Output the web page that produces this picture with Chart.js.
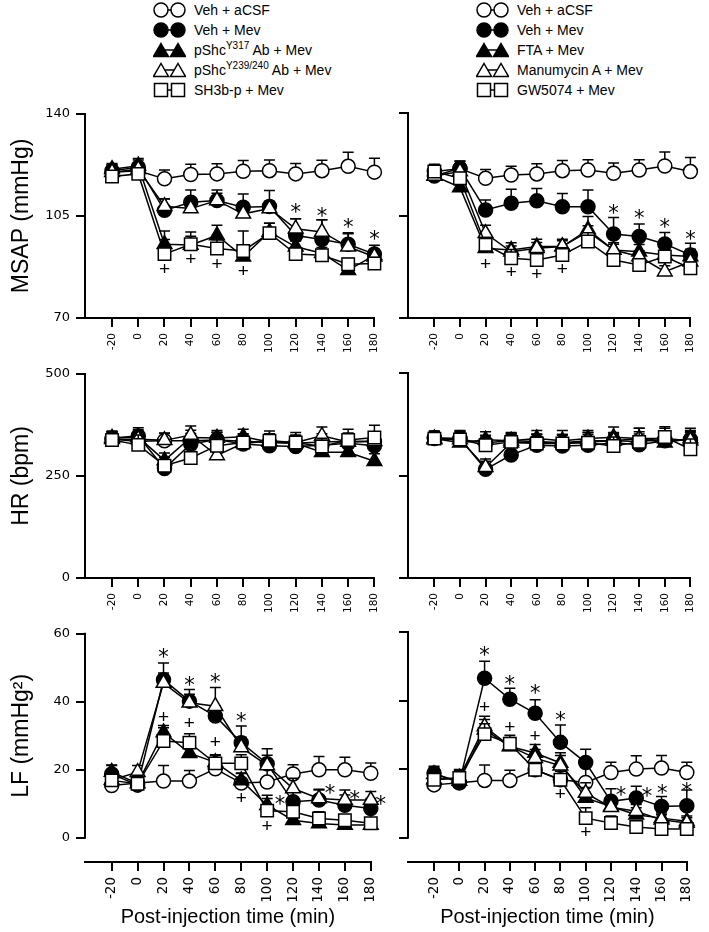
<!DOCTYPE html>
<html>
<head>
<meta charset="utf-8">
<script src="https://cdn.jsdelivr.net/npm/chart.js@4.4.0/dist/chart.umd.min.js"></script>
<style>
  body { margin: 0; background: #fff; }
  #fig { position: relative; width: 709px; height: 932px; overflow: hidden; font-family: "Liberation Sans", Arial, sans-serif; }
  #fig canvas { position: absolute; }
  .legend { position: absolute; top: 0; font-size: 14px; color: #000; }
  .legend .row { height: 20px; display: flex; align-items: center; white-space: nowrap; }
  .legend svg { margin-right: 8px; flex: none; }
  .legend sup { font-size: 10px; line-height: 0; }
</style>
</head>
<body>
<div id="fig">
  <div class="legend" id="legL" style="left:153px"></div>
  <div class="legend" id="legR" style="left:476px"></div>
  <canvas id="msapL"></canvas>
  <canvas id="msapR"></canvas>
  <canvas id="hrL"></canvas>
  <canvas id="hrR"></canvas>
  <canvas id="lfL"></canvas>
  <canvas id="lfR"></canvas>
</div>
<script>
const FONT = '"Liberation Sans", Arial, sans-serif';
const TICKFONT = '"DejaVu Sans", sans-serif';

const times = [-20, 0, 20, 40, 60, 80, 100, 120, 140, 160, 180];
const msapTicks = [70, 105, 140];
const hrTicks = [0, 250, 500];
const lfTicks = [0, 20, 40, 60];

const legendLeft = ['Veh + aCSF', 'Veh + Mev', 'pShc<sup>Y317</sup> Ab + Mev', 'pShc<sup>Y239/240</sup> Ab + Mev', 'SH3b-p + Mev'];
const legendRight = ['Veh + aCSF', 'Veh + Mev', 'FTA + Mev', 'Manumycin A + Mev', 'GW5074 + Mev'];

// MSAP (mmHg), left column
const msapAcsfL = [120, 120.5, 117.7, 119.2, 119.4, 120.3, 120.5, 119.4, 120.5, 122, 120];
const msapAcsfLErr = [2.5, 2.5, 3, 3.5, 3.5, 3.7, 3.7, 3.6, 3.6, 4.8, 4.8];
const msapMevL = [120.5, 121.7, 106.9, 109.7, 110.3, 108, 108.2, 98.3, 96.9, 95.3, 91.9];
const msapMevLErr = [2, 2.5, 4, 4.2, 3.6, 4.5, 5.5, 5.7, 6.8, 3.9, 3];
const msapY317 = [121, 122.2, 95.3, 95, 98.3, 91, 99.5, 94.4, 92.2, 86.4, 91.5];
const msapY317Err = [2, 2.5, 4.5, 3, 3.5, 3, 3, 2, 2, 2, 2];
const msapY239 = [120, 121, 108.3, 107.5, 110.3, 105.7, 107.5, 100.6, 99.5, 94.4, 91];
const msapY239Err = [2, 2, 2.5, 2.5, 2.5, 2.5, 2.5, 3.4, 4.2, 4.5, 2.5];
const msapSh3b = [118.5, 119.4, 91.9, 95.3, 93.8, 93, 99.1, 91.9, 91.5, 88.4, 88.7];
const msapSh3bErr = [2, 2, 5, 4.2, 3, 6.8, 3.4, 2, 2, 2, 2];
const msapStarsL = [[120, 107.5], [140, 106.3], [160, 102.3], [180, 98.3]];
const msapPlusL = [[20, 86.4], [40, 89.8], [60, 88.4], [80, 85.8]];

// MSAP (mmHg), right column
const msapAcsfR = [120, 121, 117.7, 118.8, 119.2, 120.3, 120.5, 119.4, 120.5, 121.9, 120];
const msapAcsfRErr = [2.5, 2.5, 3, 3, 3.5, 3.5, 3.5, 3.5, 3.5, 4.8, 4.8];
const msapMevR = [118.5, 121.1, 106.9, 109.2, 110, 108, 108, 98.7, 97.8, 95.3, 91.5];
const msapMevRErr = [2.5, 2.5, 3.4, 4.8, 4.2, 4.5, 5.7, 5.6, 4.3, 3.9, 4];
const msapFta = [118.5, 114.6, 93.8, 93.2, 94.4, 94.4, 100.2, 93.2, 92.6, 91.5, 91];
const msapFtaErr = [2, 2, 2.5, 2.5, 2.5, 2.5, 4.5, 2.5, 2.5, 2.5, 2.5];
const msapManu = [118.5, 120, 98.9, 92.6, 93.8, 94.4, 99.5, 93.2, 91, 85.8, 89.2];
const msapManuErr = [2, 2, 2.8, 2, 2, 2, 2, 2, 2, 2, 2];
const msapGw = [120, 117.7, 95, 90.4, 89.8, 91.5, 96.1, 89.8, 88.1, 91, 87];
const msapGwErr = [2, 2, 2.5, 3, 2.5, 2.5, 3, 2, 2, 2, 2];
const msapStarsR = [[120, 106.9], [140, 105.2], [160, 102.3], [180, 98.3]];
const msapPlusR = [[20, 88.3], [40, 85.3], [60, 84.7], [80, 86.4]];

// HR (bpm), left column
const hrAcsfL = [340, 335, 336, 336, 338, 335, 332, 330, 333, 335, 334];
const hrAcsfLErr = [18, 18, 18, 18, 18, 18, 20, 18, 20, 20, 20];
const hrMevL = [342, 348, 268, 328, 339, 328, 324, 322, 325, 330, 324];
const hrMevLErr = [15, 20, 20, 18, 18, 18, 20, 18, 18, 20, 20];
const hrY317 = [343, 345, 288, 344, 343, 346, 333, 330, 308, 308, 286];
const hrY317Err = [15, 18, 18, 18, 18, 18, 18, 18, 18, 18, 18];
const hrY239 = [340, 340, 337, 350, 300, 330, 335, 332, 348, 333, 335];
const hrY239Err = [18, 18, 18, 22, 18, 18, 18, 18, 22, 18, 18];
const hrSh3b = [338, 326, 275, 294, 324, 332, 336, 332, 322, 338, 344];
const hrSh3bErr = [22, 24, 20, 20, 20, 20, 24, 24, 20, 26, 30];

// HR (bpm), right column
const hrAcsfR = [340, 338, 330, 335, 333, 330, 332, 335, 333, 338, 336];
const hrAcsfRErr = [18, 18, 18, 18, 18, 18, 18, 18, 18, 18, 18];
const hrMevR = [342, 340, 265, 300, 324, 322, 324, 330, 325, 335, 338];
const hrMevRErr = [15, 20, 20, 20, 20, 20, 20, 20, 20, 20, 20];
const hrFta = [340, 330, 337, 335, 340, 335, 340, 343, 340, 330, 340];
const hrFtaErr = [18, 20, 20, 20, 20, 25, 20, 25, 25, 25, 25];
const hrManu = [338, 338, 270, 330, 330, 330, 335, 335, 340, 340, 335];
const hrManuErr = [18, 18, 20, 20, 20, 20, 20, 20, 25, 25, 25];
const hrGw = [340, 338, 324, 332, 328, 328, 330, 322, 332, 344, 314];
const hrGwErr = [18, 20, 20, 20, 22, 22, 25, 22, 25, 25, 25];

// LF (mmHg²), left column
const lfAcsfL = [15.4, 16.1, 16.7, 16.7, 20.3, 16.1, 16.4, 18.8, 20, 20, 19];
const lfAcsfLErr = [2, 3, 4.6, 3.1, 3, 3, 4.5, 2.7, 3.9, 3.7, 3];
const lfMevL = [18.8, 15.5, 46.5, 40.2, 35.8, 28, 21.8, 10.6, 11.1, 9.6, 8.6];
const lfMevLErr = [2.5, 2.5, 4.9, 3.4, 3, 4.9, 4.4, 3, 3, 3, 3];
const lfY317 = [19.4, 16, 31, 24.9, 22.2, 16.9, 9.6, 5.2, 4.2, 3.8, 3.8];
const lfY317Err = [2, 2, 2, 2, 2, 2, 2, 1.5, 1.5, 1.5, 1.5];
const lfY239 = [17, 19.3, 45.5, 39.7, 38.7, 26.6, 21.3, 14.5, 11.6, 11.1, 11.1];
const lfY239Err = [2, 2, 3, 2.5, 5.5, 3, 3, 3, 2.7, 3, 2.5];
const lfSh3b = [16.9, 15.9, 28.5, 28, 21.9, 21.9, 8, 7.7, 5.7, 5.2, 4.3];
const lfSh3bErr = [2, 2.5, 3.9, 2.6, 2.5, 2.5, 4.5, 2, 2, 1.5, 1.5];
const lfStarsL = [[20, 54.3], [40, 46], [60, 46.8], [80, 35.3], [110, 11.1], [148.6, 14.2], [167.6, 12.5], [187.6, 11.1]];
const lfPlusL = [[20, 35.3], [40, 33.6], [60, 28], [80, 11.6], [100, 3.3]];

// LF (mmHg²), right column
const lfAcsfR = [15.4, 16, 16.7, 16.7, 19.8, 16.9, 16.1, 19, 20, 20.3, 19];
const lfAcsfRErr = [2, 2.5, 4.5, 3, 3, 3, 4.5, 3, 3.9, 3.7, 3];
const lfMevR = [18.8, 16, 46.5, 40.4, 36.3, 27.8, 21.9, 10.6, 11.6, 9.1, 9.3];
const lfMevRErr = [2, 2.5, 5, 3.2, 3.9, 5.1, 3.9, 3.7, 3.4, 2.9, 4.6];
const lfFta = [18.5, 16.5, 31.5, 26.6, 24.7, 21.8, 11.6, 9.1, 6.7, 5.7, 4.8];
const lfFtaErr = [2, 2, 3, 2.5, 2.5, 3, 3, 2, 2, 1.5, 1.5];
const lfManu = [17, 17.5, 32.4, 26.7, 23.2, 21, 13, 8.9, 7.7, 5.2, 4.3];
const lfManuErr = [2, 2, 3, 2.5, 2.5, 3, 3, 2, 2, 1.5, 1.5];
const lfGw = [16.9, 17.4, 30.2, 27.4, 19.8, 16.9, 5.7, 4.3, 3.1, 2.5, 2.5];
const lfGwErr = [2, 2.5, 3, 2.5, 2, 2.5, 3, 2, 1.5, 1.5, 1.5];
const lfStarsR = [[20, 54.3], [40, 45.8], [60, 43.1], [80, 35.3], [128, 13.5], [148.5, 13.2], [160.6, 14], [180, 14.5]];
const lfPlusR = [[20, 37.8], [40, 32], [60, 29.5], [80, 12.5], [100, 1.5]];

// marker for each series, in the order of the legend
const shapes = [
  { style: 'circle', r: 7, fill: '#fff' },
  { style: 'circle', r: 7, fill: '#000' },
  { style: 'triangle', r: 8.5, fill: '#000' },
  { style: 'triangle', r: 8.5, fill: '#fff' },
  { style: 'rect', r: 8.8, fill: '#fff' }
];

function legendSvg(i) {
  const s = shapes[i], stroke = 'stroke="#000" stroke-width="1.5"';
  let one = cx => '';
  if (s.style === 'circle') one = cx => `<circle cx="${cx}" cy="9" r="7" fill="${s.fill}" ${stroke}/>`;
  if (s.style === 'triangle') one = cx => `<polygon points="${cx},2.5 ${cx + 7.5},15.5 ${cx - 7.5},15.5" fill="${s.fill}" ${stroke}/>`;
  if (s.style === 'rect') one = cx => `<rect x="${cx - 6.5}" y="2.5" width="13" height="13" fill="${s.fill}" ${stroke}/>`;
  return `<svg width="33" height="18"><line x1="8" y1="9" x2="25" y2="9" ${stroke}/>${one(8)}${one(25)}</svg>`;
}

function fillLegend(id, labels) {
  document.getElementById(id).innerHTML = labels
    .map((t, i) => `<div class="row">${legendSvg(i)}<span>${t}</span></div>`).join('');
}
fillLegend('legL', legendLeft);
fillLegend('legR', legendRight);

// upper error bars, drawn just before their own series
const errorBars = {
  id: 'errorBars',
  beforeDatasetDraw(chart, args) {
    const ds = chart.data.datasets[args.index];
    const y = chart.scales.y, ctx = chart.ctx;
    ctx.save();
    ctx.strokeStyle = '#000';
    ctx.lineWidth = 1.5;
    args.meta.data.forEach((pt, j) => {
      const top = y.getPixelForValue(ds.data[j].y + ds.err[j]);
      ctx.beginPath();
      ctx.moveTo(pt.x, pt.y);
      ctx.lineTo(pt.x, top);
      ctx.moveTo(pt.x - 5.5, top);
      ctx.lineTo(pt.x + 5.5, top);
      ctx.stroke();
    });
    ctx.restore();
  }
};

// * and + significance marks
const sigMarks = {
  id: 'sig',
  afterDatasetsDraw(chart, args, o) {
    const { ctx, scales: { x, y } } = chart;
    ctx.save();
    ctx.fillStyle = '#000';
    ctx.textAlign = 'center';
    ctx.textBaseline = 'middle';
    ctx.font = '21px "DejaVu Sans"';
    (o.stars || []).forEach(([t, v]) => ctx.fillText('*', x.getPixelForValue(t), y.getPixelForValue(v) + 5));
    ctx.font = '19px ' + FONT;
    (o.plus || []).forEach(([t, v]) => ctx.fillText('+', x.getPixelForValue(t), y.getPixelForValue(v)));
    ctx.restore();
  }
};

// LF panels: y axis line stops at 0 while the x axis sits lower
const yLine = {
  id: 'yLine',
  afterDraw(chart, args, o) {
    if (o.from === undefined) return;
    const { ctx, chartArea, scales: { y } } = chart;
    const x0 = Math.round(chartArea.left);
    const y0 = y.getPixelForValue(o.from), y1 = y.getPixelForValue(o.to);
    ctx.save();
    ctx.strokeStyle = '#000';
    ctx.lineWidth = 2;
    ctx.beginPath();
    ctx.moveTo(x0, y0 + 1);
    ctx.lineTo(x0, y1 - 1);
    ctx.stroke();
    if (o.title) {
      ctx.translate(22, (y0 + y1) / 2);
      ctx.rotate(-Math.PI / 2);
      ctx.font = '23px ' + FONT;
      ctx.fillStyle = '#000';
      ctx.textAlign = 'center';
      ctx.textBaseline = 'middle';
      ctx.fillText(o.title, 0, 0);
    }
    ctx.restore();
  }
};

function buildSets(labels, values, errors) {
  return values.map((vals, i) => ({
    label: labels[i].replace(/<[^>]+>/g, ''),
    data: times.map((t, j) => ({ x: t, y: vals[j] })),
    err: errors[i],
    borderColor: '#000',
    borderWidth: 1.5,
    pointBorderColor: '#000',
    pointBorderWidth: 1.5,
    pointStyle: shapes[i].style,
    pointRadius: shapes[i].r,
    pointHoverRadius: shapes[i].r,
    pointBackgroundColor: shapes[i].fill,
    order: values.length - i,
    clip: false
  }));
}

function drawPanel(id, box, sets, yAxis, opt) {
  const cv = document.getElementById(id);
  cv.width = box.w;
  cv.height = box.h;
  cv.style.left = box.left + 'px';
  cv.style.top = box.top + 'px';
  const line = { color: '#000', width: 2 };
  new Chart(cv, {
    type: 'line',
    data: { datasets: sets },
    options: {
      responsive: false,
      animation: false,
      devicePixelRatio: 1,
      events: [],
      layout: { padding: { top: box.padTop, right: box.padRight, left: 0, bottom: 0 } },
      plugins: {
        legend: { display: false },
        tooltip: { enabled: false },
        sig: { stars: opt.stars, plus: opt.plus },
        yLine: opt.yLine || {}
      },
      scales: {
        x: {
          type: 'linear',
          min: -40.6,
          max: 180,
          afterBuildTicks: s => { s.ticks = times.map(v => ({ value: v })); },
          afterFit: s => { s.height = box.xh; },
          border: line,
          grid: { drawOnChartArea: false, tickLength: 9, color: '#000', lineWidth: 2 },
          ticks: { autoSkip: false, minRotation: 90, maxRotation: 90, padding: 6, color: '#000',
                   font: { family: TICKFONT, size: opt.xTickSize } },
          title: { display: !!opt.xTitle, text: opt.xTitle, color: '#000',
                   font: { family: FONT, size: 20 }, padding: { top: 0, bottom: 3 } }
        },
        y: {
          type: 'linear',
          min: yAxis.min,
          max: yAxis.max,
          afterBuildTicks: s => { s.ticks = yAxis.ticks.map(v => ({ value: v })); },
          afterFit: s => { s.width = box.yw; },
          border: { display: !opt.yLine, color: '#000', width: 2 },
          grid: { drawOnChartArea: false, tickLength: 9, color: '#000', lineWidth: 2 },
          ticks: { display: !!opt.yLabels, padding: 6, color: '#000', font: { family: TICKFONT, size: 13 } },
          title: { display: !!opt.yTitle, text: opt.yTitle, color: '#000',
                   font: { family: FONT, size: 23 }, padding: { top: 8, bottom: 0 } }
        }
      }
    },
    plugins: [errorBars, sigMarks, yLine]
  });
}

const leftBox = { left: 0, w: 393, yw: 85, padRight: 18 };
const rightBox = { left: 393, w: 316, yw: 15, padRight: 11 };
const rowMsap = { top: 100, h: 260, padTop: 13, xh: 42 };
const rowHr = { top: 360, h: 260, padTop: 13, xh: 42 };
const rowLf = { top: 620, h: 312, padTop: 12, xh: 70 };

drawPanel('msapL', Object.assign({}, leftBox, rowMsap),
  buildSets(legendLeft, [msapAcsfL, msapMevL, msapY317, msapY239, msapSh3b],
    [msapAcsfLErr, msapMevLErr, msapY317Err, msapY239Err, msapSh3bErr]),
  { min: 70, max: 140, ticks: msapTicks },
  { yLabels: true, yTitle: 'MSAP (mmHg)', xTickSize: 10.5, stars: msapStarsL, plus: msapPlusL });

drawPanel('msapR', Object.assign({}, rightBox, rowMsap),
  buildSets(legendRight, [msapAcsfR, msapMevR, msapFta, msapManu, msapGw],
    [msapAcsfRErr, msapMevRErr, msapFtaErr, msapManuErr, msapGwErr]),
  { min: 70, max: 140, ticks: msapTicks },
  { xTickSize: 10.5, stars: msapStarsR, plus: msapPlusR });

drawPanel('hrL', Object.assign({}, leftBox, rowHr),
  buildSets(legendLeft, [hrAcsfL, hrMevL, hrY317, hrY239, hrSh3b],
    [hrAcsfLErr, hrMevLErr, hrY317Err, hrY239Err, hrSh3bErr]),
  { min: 0, max: 500, ticks: hrTicks },
  { yLabels: true, yTitle: 'HR (bpm)', xTickSize: 10.5 });

drawPanel('hrR', Object.assign({}, rightBox, rowHr),
  buildSets(legendRight, [hrAcsfR, hrMevR, hrFta, hrManu, hrGw],
    [hrAcsfRErr, hrMevRErr, hrFtaErr, hrManuErr, hrGwErr]),
  { min: 0, max: 500, ticks: hrTicks },
  { xTickSize: 10.5 });

drawPanel('lfL', Object.assign({}, leftBox, rowLf),
  buildSets(legendLeft, [lfAcsfL, lfMevL, lfY317, lfY239, lfSh3b],
    [lfAcsfLErr, lfMevLErr, lfY317Err, lfY239Err, lfSh3bErr]),
  { min: -7.1, max: 60, ticks: lfTicks },
  { yLabels: true, xTickSize: 13.5, xTitle: 'Post-injection time (min)',
    yLine: { from: 0, to: 60, title: 'LF (mmHg²)' }, stars: lfStarsL, plus: lfPlusL });

drawPanel('lfR', Object.assign({}, rightBox, rowLf),
  buildSets(legendRight, [lfAcsfR, lfMevR, lfFta, lfManu, lfGw],
    [lfAcsfRErr, lfMevRErr, lfFtaErr, lfManuErr, lfGwErr]),
  { min: -7.1, max: 60, ticks: lfTicks },
  { xTickSize: 13.5, xTitle: 'Post-injection time (min)',
    yLine: { from: 0, to: 60 }, stars: lfStarsR, plus: lfPlusR });
</script>
</body>
</html>
